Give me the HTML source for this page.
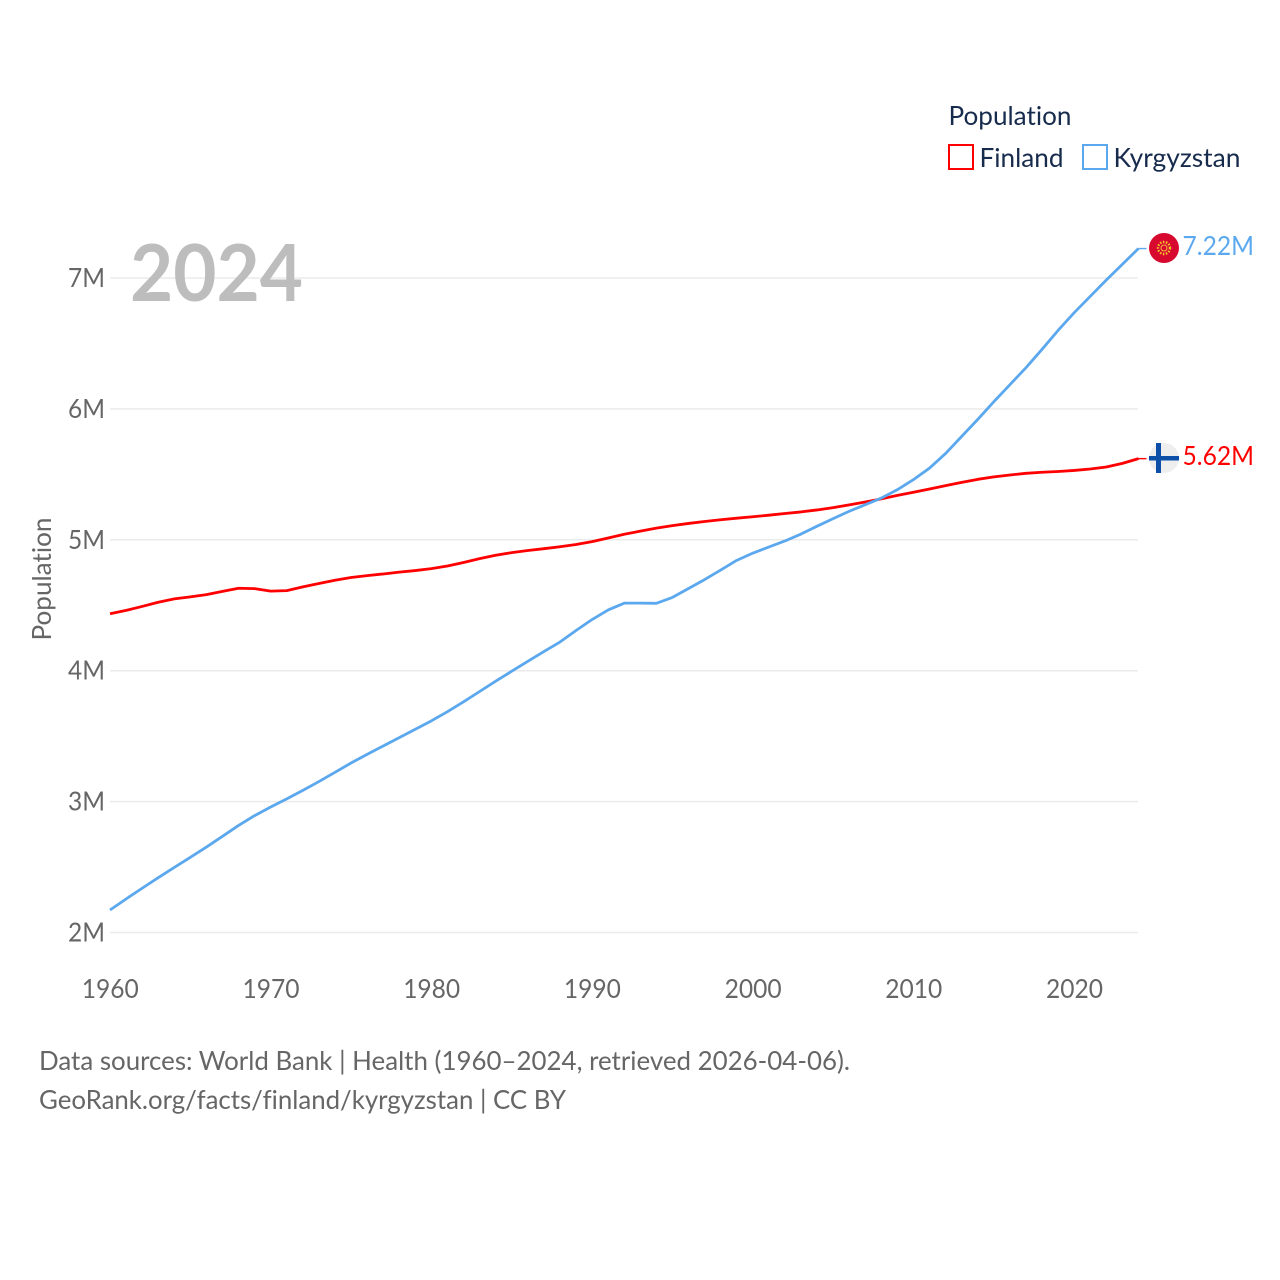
<!DOCTYPE html>
<html lang="en">
<head>
<meta charset="utf-8">
<title>Population: Finland vs Kyrgyzstan</title>
<style>
html,body{margin:0;padding:0;background:#fff;}
svg{display:block;}
text{font-family:"Lato","Carlito","Liberation Sans",sans-serif;font-variant-ligatures:none;}
</style>
</head>
<body>
<svg id="chart" xmlns="http://www.w3.org/2000/svg" width="1280" height="1280" viewBox="0 0 1280 1280">
  <rect x="0" y="0" width="1280" height="1280" fill="#fff"/>
  <g id="grid"></g>
  <g id="y-ticks"></g>
  <g id="x-ticks"></g>
  <text x="130" y="301" font-size="79" font-weight="700" fill="#bdbdbd" textLength="173" lengthAdjust="spacingAndGlyphs">2024</text>
  <text transform="translate(51,579) rotate(-90)" text-anchor="middle" font-size="26" fill="#666" textLength="123" lengthAdjust="spacingAndGlyphs">Population</text>
  <g id="series"></g>

  <g>
    <text x="948.5" y="125" font-size="26" fill="#172b4d" textLength="123" lengthAdjust="spacingAndGlyphs">Population</text>
    <g>
      <rect x="949" y="145" width="24" height="24" fill="#fff" stroke="#ff0000" stroke-width="2"/>
      <text x="979.5" y="167" font-size="26" fill="#172b4d" textLength="84" lengthAdjust="spacingAndGlyphs">Finland</text>
    </g>
    <g>
      <rect x="1083" y="145" width="24" height="24" fill="#fff" stroke="#5ba8ee" stroke-width="2"/>
      <text x="1113.5" y="167" font-size="26" fill="#172b4d" textLength="127" lengthAdjust="spacingAndGlyphs">Kyrgyzstan</text>
    </g>
  </g>

  <g>
    <circle cx="1164" cy="248" r="15" fill="#d8092e"/>
    <circle cx="1164" cy="248" r="6" fill="none" stroke="#f5c52a" stroke-width="2.4" stroke-dasharray="1.5 1.5"/>
    <circle cx="1164" cy="248" r="3" fill="none" stroke="#f0b93a" stroke-width="1"/>
  </g>
  <g>
    <circle cx="1164" cy="458" r="15" fill="#eeeeef"/>
    <rect x="1149" y="456" width="30" height="4.5" fill="#0b4fa8"/>
    <rect x="1156" y="443" width="5" height="30" fill="#0b4fa8"/>
  </g>
  <text id="end-k" x="1182.5" y="255" font-size="26" fill="#5ba8ee" textLength="71.5" lengthAdjust="spacingAndGlyphs">7.22M</text>
  <text id="end-f" x="1182.5" y="465" font-size="26" fill="#ff0000" textLength="71.5" lengthAdjust="spacingAndGlyphs">5.62M</text>

  <text x="39" y="1070" font-size="26" fill="#666" textLength="811" lengthAdjust="spacingAndGlyphs">Data sources: World Bank | Health (1960–2024, retrieved 2026-04-06).</text>
  <text x="39" y="1109" font-size="26" fill="#666" textLength="527" lengthAdjust="spacingAndGlyphs">GeoRank.org/facts/finland/kyrgyzstan | CC BY</text>
</svg>
<script>
const startYear = 1960;
const xTickYears = [1960, 1970, 1980, 1990, 2000, 2010, 2020];
const yTickValues = [2, 3, 4, 5, 6, 7];
const finlandValues = [4.435,4.461,4.491,4.523,4.549,4.564,4.581,4.606,4.630,4.627,4.608,4.612,4.640,4.666,4.691,4.712,4.726,4.739,4.753,4.765,4.780,4.800,4.827,4.856,4.882,4.902,4.918,4.932,4.947,4.964,4.986,5.014,5.042,5.066,5.089,5.108,5.125,5.140,5.153,5.165,5.176,5.188,5.201,5.213,5.228,5.246,5.267,5.289,5.313,5.339,5.363,5.388,5.414,5.439,5.462,5.481,5.495,5.508,5.516,5.522,5.530,5.541,5.556,5.584,5.620];
const kyrgyzstanValues = [2.172,2.256,2.338,2.419,2.497,2.574,2.653,2.735,2.818,2.893,2.959,3.021,3.086,3.153,3.224,3.295,3.361,3.425,3.489,3.553,3.617,3.687,3.762,3.841,3.920,3.996,4.072,4.146,4.219,4.307,4.391,4.464,4.516,4.516,4.515,4.560,4.628,4.696,4.769,4.843,4.898,4.945,4.991,5.044,5.104,5.162,5.218,5.268,5.319,5.383,5.460,5.548,5.660,5.790,5.920,6.055,6.185,6.315,6.455,6.600,6.735,6.860,6.985,7.105,7.225];

const NS = 'http://www.w3.org/2000/svg';
function xScale(year){ return 110 + (year - 1960) * 16.07; }
function yScale(v){ return 932.5 - (v - 2) * 130.9; }
function make(tag, attrs, parent){
  const el = document.createElementNS(NS, tag);
  for (const k in attrs) el.setAttribute(k, attrs[k]);
  parent.appendChild(el);
  return el;
}
const grid = document.getElementById('grid');
const yTicks = document.getElementById('y-ticks');
const xTicks = document.getElementById('x-ticks');
const series = document.getElementById('series');

yTickValues.forEach(function(v){
  const line = make('line', {x1:110, x2:1138, y1:yScale(v), y2:yScale(v), stroke:'#ebebeb', 'stroke-width':1.5}, grid);
  
  
  const t = make('text', {x:105, y:yScale(v)+9, 'text-anchor':'end', 'font-size':26, fill:'#666', textLength:37, lengthAdjust:'spacingAndGlyphs'}, yTicks);
  
  
  t.textContent = v + 'M';
});

xTickYears.forEach(function(y){
  const t = make('text', {x:xScale(y) + 0.3, y:998, 'text-anchor':'middle', 'font-size':26, fill:'#666', textLength:57, lengthAdjust:'spacingAndGlyphs'}, xTicks);
  
  
  t.textContent = y;
});

function drawLine(values, color, name){
  const pts = values.map(function(v, i){ return xScale(startYear + i).toFixed(2) + ',' + yScale(v).toFixed(2); });
  const last = values.length - 1;
  const endX = xScale(startYear + last);
  const endY = yScale(values[last]);
  const p = make('polyline', {points:pts.join(' '), fill:'none', stroke:color, 'stroke-width':2.8, 'stroke-linejoin':'round', 'stroke-linecap':'butt'}, series);
  
  
  const lead = make('line', {x1:endX, x2:endX + 8, y1:endY, y2:endY, stroke:color, 'stroke-width':1.4}, series);
  
  
}
drawLine(finlandValues, '#ff0000', 'finland');
drawLine(kyrgyzstanValues, '#5ba8ee', 'kyrgyzstan');
</script>
</body>
</html>
